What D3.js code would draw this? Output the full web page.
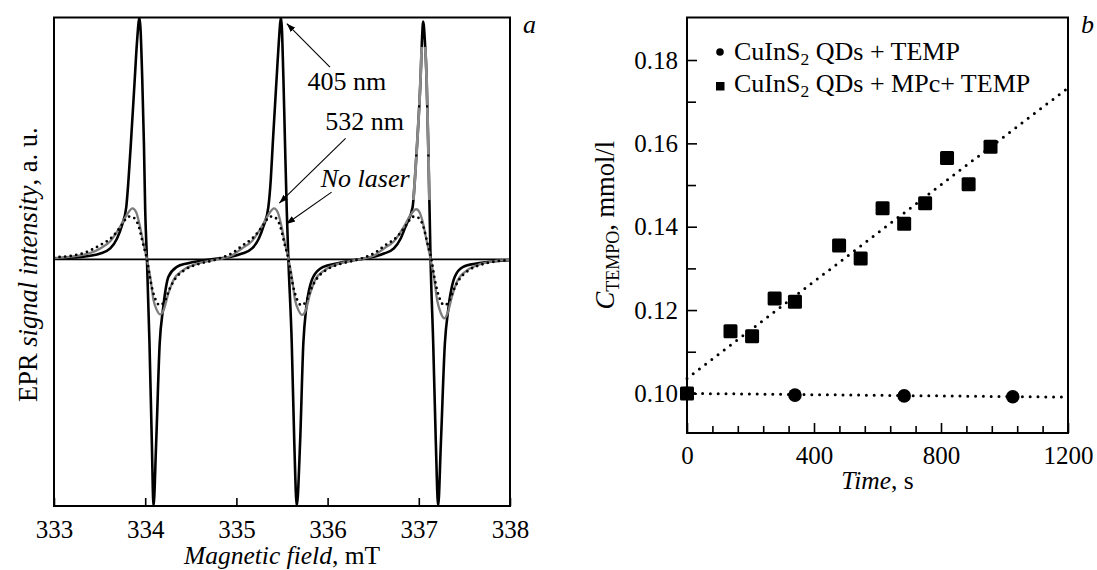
<!DOCTYPE html>
<html>
<head>
<meta charset="utf-8">
<script src="https://cdn.jsdelivr.net/npm/d3@7"></script>
<style>
  body { margin: 0; background: #fff; }
  svg, text, tspan { font-family: "Liberation Serif", "Times New Roman", serif; }
  .frame { fill: none; stroke: #000; stroke-width: 2; }
  .axis line { stroke: #000; stroke-width: 1.6; }
  .axis text { fill: #000; }
</style>
</head>
<body>
<svg id="figure" width="1097" height="570"></svg>
<script>
// ---------- panel a: EPR spectra (field in mT, intensity in a.u.) ----------
const fieldTicks = [333, 334, 335, 336, 337, 338];

const spectrum405 = [
  [333.000, 0.004], [333.288, 0.010], [333.507, 0.024], [333.617, 0.045], [333.690, 0.085],
  [333.745, 0.140], [333.792, 0.215], [333.817, 0.330], [333.843, 0.480], [333.887, 0.755],
  [333.909, 0.893], [333.938, 1.000], [333.967, 0.755], [333.986, 0.480], [334.000, 0.204],
  [334.019, 0.000], [334.047, -0.347], [334.073, -0.761], [334.091, -1.020], [334.120, -0.761],
  [334.159, -0.347], [334.194, -0.210], [334.255, -0.072], [334.347, -0.031], [334.457, -0.017],
  [334.602, -0.006], [334.770, 0.002], [334.930, 0.010], [335.062, 0.024], [335.172, 0.045],
  [335.245, 0.085], [335.300, 0.140], [335.350, 0.215], [335.377, 0.330], [335.399, 0.480],
  [335.442, 0.755], [335.464, 0.893], [335.490, 1.000], [335.515, 0.755], [335.533, 0.480],
  [335.552, 0.204], [335.570, 0.000], [335.607, -0.347], [335.635, -0.761], [335.662, -1.020],
  [335.698, -0.761], [335.734, -0.347], [335.763, -0.210], [335.843, -0.072], [335.953, -0.031],
  [336.100, -0.017], [336.245, -0.006], [336.400, 0.003], [336.520, 0.012], [336.618, 0.024],
  [336.727, 0.045], [336.800, 0.085], [336.859, 0.140], [336.932, 0.215], [336.957, 0.330],
  [336.982, 0.480], [337.020, 0.755], [337.034, 0.900], [337.048, 0.983], [337.067, 0.900],
  [337.085, 0.755], [337.103, 0.480], [337.118, 0.204], [337.129, 0.000], [337.158, -0.347],
  [337.187, -0.761], [337.212, -1.020], [337.242, -0.761], [337.286, -0.347], [337.322, -0.210],
  [337.395, -0.072], [337.486, -0.031], [337.633, -0.017], [337.834, -0.008], [338.000, -0.004]
];

const spectrum532 = [
  [333.000, 0.005], [333.288, 0.016], [333.507, 0.045], [333.617, 0.075], [333.726, 0.135],
  [333.792, 0.180], [333.861, 0.211], [333.901, 0.195], [333.926, 0.163], [333.981, 0.066],
  [334.019, 0.000], [334.055, -0.072], [334.091, -0.168], [334.128, -0.210], [334.164, -0.228],
  [334.197, -0.215], [334.255, -0.140], [334.310, -0.086], [334.419, -0.044], [334.566, -0.019],
  [334.712, -0.006], [334.850, 0.004], [334.950, 0.016], [335.059, 0.045], [335.169, 0.075],
  [335.278, 0.135], [335.344, 0.180], [335.413, 0.211], [335.453, 0.195], [335.478, 0.163],
  [335.533, 0.066], [335.571, 0.000], [335.607, -0.072], [335.643, -0.168], [335.680, -0.210],
  [335.722, -0.230], [335.756, -0.215], [335.810, -0.140], [335.862, -0.086], [335.971, -0.044],
  [336.118, -0.019], [336.264, -0.006], [336.400, 0.004], [336.510, 0.016], [336.618, 0.045],
  [336.728, 0.075], [336.837, 0.135], [336.903, 0.180], [336.972, 0.207], [337.012, 0.192],
  [337.037, 0.163], [337.092, 0.066], [337.130, 0.000], [337.166, -0.075], [337.202, -0.170],
  [337.239, -0.220], [337.280, -0.244], [337.313, -0.225], [337.370, -0.145], [337.425, -0.088],
  [337.535, -0.044], [337.680, -0.019], [337.830, -0.007], [338.000, -0.002]
];

const spectrumNoLaser = [
  [333.000, 0.008], [333.288, 0.022], [333.507, 0.059], [333.640, 0.093], [333.740, 0.140],
  [333.790, 0.168], [333.830, 0.177], [333.875, 0.172], [333.930, 0.135], [333.975, 0.066],
  [334.019, 0.000], [334.050, -0.072], [334.080, -0.127], [334.115, -0.168], [334.160, -0.190],
  [334.210, -0.175], [334.270, -0.120], [334.330, -0.080], [334.430, -0.045], [334.580, -0.020],
  [334.730, -0.006], [334.860, 0.010], [334.950, 0.025], [335.060, 0.055], [335.192, 0.093],
  [335.292, 0.140], [335.342, 0.168], [335.382, 0.177], [335.427, 0.172], [335.482, 0.135],
  [335.527, 0.066], [335.571, 0.000], [335.602, -0.072], [335.632, -0.127], [335.667, -0.168],
  [335.712, -0.190], [335.762, -0.175], [335.822, -0.120], [335.882, -0.080], [335.982, -0.045],
  [336.132, -0.020], [336.282, -0.006], [336.420, 0.010], [336.510, 0.025], [336.620, 0.055],
  [336.760, 0.093], [336.860, 0.140], [336.910, 0.168], [336.950, 0.177], [336.995, 0.172],
  [337.050, 0.135], [337.095, 0.066], [337.138, 0.000], [337.170, -0.072], [337.200, -0.127],
  [337.235, -0.168], [337.280, -0.190], [337.330, -0.175], [337.390, -0.120], [337.450, -0.080],
  [337.550, -0.045], [337.700, -0.020], [337.850, -0.008], [338.000, -0.003]
];

// ---------- panel b: TEMPO concentration vs time ----------
const timeTicks = [0, 400, 800, 1200];
const timeMinorTicks = [80, 160, 240, 320, 480, 560, 640, 720, 880, 960, 1040, 1120];
const concTicks = [0.10, 0.12, 0.14, 0.16, 0.18];
const concMinorTicks = [0.11, 0.13, 0.15, 0.17];

const timesTemp = [0, 340, 684, 1026];
const concTemp = [0.1000, 0.0996, 0.0994, 0.0992];

const timesMpc = [0, 137, 205, 276, 340, 479, 547, 616, 684, 750, 819, 887, 956];
const concMpc = [0.1000, 0.1149, 0.1137, 0.1228, 0.1220, 0.1355, 0.1324, 0.1444, 0.1407, 0.1456, 0.1565, 0.1502, 0.1592];

// end points of the two dotted fit lines
const fitTemp = [[0, 0.1000], [1200, 0.0991]];
const fitMpc = [[0, 0.1036], [1200, 0.1733]];

const legendLabels = ['CuInS', 'CuInS'];
const legendTails = [' QDs + TEMP', ' QDs + MPc+ TEMP'];

const FONT = '"Liberation Serif", "Times New Roman", serif';

const svg = d3.select('#figure').attr('font-family', FONT);

// shared arrowhead
svg.append('defs').append('marker')
    .attr('id', 'arrow')
    .attr('viewBox', '0 0 10 10')
    .attr('refX', 10).attr('refY', 5)
    .attr('markerWidth', 9).attr('markerHeight', 9)
    .attr('markerUnits', 'userSpaceOnUse')
    .attr('orient', 'auto')
  .append('path')
    .attr('d', 'M0,1.5 L10,5 L0,8.5 Z')
    .attr('fill', '#000');

class EprChart {

  constructor(_config) {
    this.config = {
      parentElement: _config.parentElement,
      left: 54, top: 17.5, width: 456, height: 488.5
    };
    this.initVis();
  }

  initVis() {
    let vis = this;
    const c = vis.config;

    vis.xScale = d3.scaleLinear().domain([333, 338]).range([0, c.width]);
    vis.yScale = d3.scaleLinear().domain([-1.02, 1]).range([c.height, 0]);

    vis.chart = c.parentElement.append('g')
        .attr('transform', `translate(${c.left},${c.top})`);

    vis.chart.append('clipPath').attr('id', 'clip-a')
      .append('rect').attr('width', c.width).attr('height', c.height);

    // zero line
    vis.chart.append('line')
        .attr('x1', 0).attr('x2', c.width)
        .attr('y1', vis.yScale(0)).attr('y2', vis.yScale(0))
        .attr('stroke', '#000').attr('stroke-width', 1.6);

    vis.line = d3.line()
        .x(d => vis.xScale(d[0]))
        .y(d => vis.yScale(d[1]))
        .curve(d3.curveMonotoneX);

    vis.curves = vis.chart.append('g').attr('clip-path', 'url(#clip-a)');

    vis.curves.append('path')
        .attr('d', vis.line(spectrum405))
        .attr('fill', 'none').attr('stroke', '#000').attr('stroke-width', 2.6);

    // the upper part of the third 405 nm line is grey in the original print
    const bands = [[0.245, 0.425], [0.433, 0.628], [0.637, 0.879]];
    const fade = vis.chart.append('clipPath').attr('id', 'fade-a');
    bands.forEach(b => {
      fade.append('rect')
          .attr('x', vis.xScale(336.85)).attr('width', vis.xScale(337.2) - vis.xScale(336.85))
          .attr('y', vis.yScale(b[1])).attr('height', vis.yScale(b[0]) - vis.yScale(b[1]));
    });
    vis.curves.append('path')
        .attr('d', vis.line(spectrum405))
        .attr('clip-path', 'url(#fade-a)')
        .attr('fill', 'none').attr('stroke', '#8a8a8a').attr('stroke-width', 2.8);

    vis.curves.append('path')
        .attr('d', vis.line(spectrum532))
        .attr('fill', 'none').attr('stroke', '#7d7d7d').attr('stroke-width', 2.3);

    vis.curves.append('path')
        .attr('d', vis.line(spectrumNoLaser))
        .attr('fill', 'none').attr('stroke', '#000').attr('stroke-width', 2.8)
        .attr('stroke-linecap', 'round').attr('stroke-dasharray', '0 5.6');

    // axis with inward ticks
    vis.xAxis = d3.axisBottom(vis.xScale)
        .tickValues(fieldTicks)
        .tickSize(-8)
        .tickPadding(14)
        .tickFormat(d3.format('d'));

    vis.chart.append('g')
        .attr('class', 'axis')
        .attr('transform', `translate(0,${c.height})`)
        .call(vis.xAxis)
        .call(g => g.select('.domain').remove())
        .attr('font-size', 25).attr('font-family', FONT);

    vis.chart.append('rect').attr('class', 'frame')
        .attr('width', c.width).attr('height', c.height);

    // annotations
    const notes = [
      { label: '405 nm', italic: false, at: [335.780, 0.700], from: [336.026, 0.795], to: [335.552, 0.975] },
      { label: '532 nm', italic: false, at: [335.975, 0.534], from: [336.197, 0.500], to: [335.470, 0.232] },
      { label: 'No laser', italic: true, at: [335.925, 0.300], from: [336.044, 0.278], to: [335.546, 0.146] }
    ];
    notes.forEach(n => {
      vis.chart.append('line')
          .attr('x1', vis.xScale(n.from[0])).attr('y1', vis.yScale(n.from[1]))
          .attr('x2', vis.xScale(n.to[0])).attr('y2', vis.yScale(n.to[1]))
          .attr('stroke', '#000').attr('stroke-width', 1.1)
          .attr('marker-end', 'url(#arrow)');
      vis.chart.append('text')
          .attr('x', vis.xScale(n.at[0])).attr('y', vis.yScale(n.at[1]))
          .attr('font-size', 26).attr('font-family', FONT)
          .attr('font-style', n.italic ? 'italic' : null)
          .text(n.label);
    });

    // axis titles and panel letter
    const xt = vis.chart.append('text')
        .attr('x', c.width / 2).attr('y', c.height + 58)
        .attr('text-anchor', 'middle').attr('font-size', 25.5);
    xt.append('tspan').attr('font-style', 'italic').text('Magnetic field');
    xt.append('tspan').text(', mT');

    const yt = vis.chart.append('text')
        .attr('transform', `translate(-17,${c.height / 2 + 3}) rotate(-90)`)
        .attr('text-anchor', 'middle').attr('font-size', 26.5);
    yt.append('tspan').text('EPR ');
    yt.append('tspan').attr('font-style', 'italic').text('signal intensity');
    yt.append('tspan').text(', a. u.');

    vis.chart.append('text')
        .attr('x', c.width + 13).attr('y', 15)
        .attr('font-size', 26).attr('font-style', 'italic')
        .text('a');
  }
}

class KineticsChart {

  constructor(_config) {
    this.config = {
      parentElement: _config.parentElement,
      left: 687, top: 17.5, width: 381, height: 415.5
    };
    this.initVis();
  }

  initVis() {
    let vis = this;
    const c = vis.config;

    vis.xScale = d3.scaleLinear().domain([0, 1200]).range([0, c.width]);
    vis.yScale = d3.scaleLinear().domain([0.0905, 0.1902]).range([c.height, 0]);

    vis.chart = c.parentElement.append('g')
        .attr('transform', `translate(${c.left},${c.top})`);

    const axisStyle = g => g.call(g => g.select('.domain').remove())
        .attr('font-size', 25).attr('font-family', FONT);

    // minor ticks first, then major with labels
    vis.chart.append('g').attr('class', 'axis')
        .attr('transform', `translate(0,${c.height})`)
        .call(d3.axisBottom(vis.xScale).tickValues(timeMinorTicks).tickSize(-7).tickFormat(''))
        .call(axisStyle);
    vis.chart.append('g').attr('class', 'axis')
        .attr('transform', `translate(0,${c.height})`)
        .call(d3.axisBottom(vis.xScale).tickValues(timeTicks).tickSize(-10).tickPadding(13).tickFormat(d3.format('d')))
        .call(axisStyle);
    vis.chart.append('g').attr('class', 'axis')
        .call(d3.axisLeft(vis.yScale).tickValues(concMinorTicks).tickSize(-9).tickFormat(''))
        .call(axisStyle);
    vis.chart.append('g').attr('class', 'axis')
        .call(d3.axisLeft(vis.yScale).tickValues(concTicks).tickSize(-10).tickPadding(9).tickFormat(d3.format('.2f')))
        .call(axisStyle);

    // dotted fits
    const line = d3.line().x(d => vis.xScale(d[0])).y(d => vis.yScale(d[1]));
    [fitTemp, fitMpc].forEach(f => {
      vis.chart.append('path')
          .attr('d', line(f))
          .attr('fill', 'none').attr('stroke', '#000').attr('stroke-width', 3)
          .attr('stroke-linecap', 'round').attr('stroke-dasharray', '0 7.8');
    });

    vis.chart.selectAll('.dot')
        .data(timesTemp.map((t, i) => [t, concTemp[i]]))
        .join('circle')
        .attr('class', 'dot')
        .attr('cx', d => vis.xScale(d[0]))
        .attr('cy', d => vis.yScale(d[1]))
        .attr('r', 6.8);

    vis.chart.selectAll('.sq')
        .data(timesMpc.map((t, i) => [t, concMpc[i]]))
        .join('rect')
        .attr('class', 'sq')
        .attr('x', d => vis.xScale(d[0]) - 7)
        .attr('y', d => vis.yScale(d[1]) - 7)
        .attr('width', 14).attr('height', 14)
        .attr('rx', 1.5);

    vis.chart.append('rect').attr('class', 'frame')
        .attr('width', c.width).attr('height', c.height);

    // legend
    const legend = vis.chart.append('g').attr('font-size', 26).attr('font-family', FONT);
    legend.append('circle').attr('cx', 33).attr('cy', 34.5).attr('r', 3.8);
    legend.append('rect').attr('x', 29).attr('y', 64.5).attr('width', 8.5).attr('height', 8.5);
    legendLabels.forEach((lab, i) => {
      const t = legend.append('text').attr('x', 47).attr('y', 42.5 + i * 32);
      t.append('tspan').text(lab);
      t.append('tspan').attr('font-size', 17.5).attr('dy', 5).text('2');
      t.append('tspan').attr('dy', -5).text(legendTails[i]);
    });

    // axis titles and panel letter
    const xt = vis.chart.append('text')
        .attr('x', c.width / 2).attr('y', c.height + 56)
        .attr('text-anchor', 'middle').attr('font-size', 25.5);
    xt.append('tspan').attr('font-style', 'italic').text('Time');
    xt.append('tspan').text(', s');

    const yt = vis.chart.append('text')
        .attr('transform', `translate(-73,${c.height / 2}) rotate(-90)`)
        .attr('text-anchor', 'middle').attr('font-size', 26.5);
    yt.append('tspan').attr('font-style', 'italic').text('C');
    yt.append('tspan').attr('font-size', 18).attr('dy', 5).text('TEMPO');
    yt.append('tspan').attr('dy', -5).text(', mmol/l');

    vis.chart.append('text')
        .attr('x', c.width + 13).attr('y', 15)
        .attr('font-size', 26).attr('font-style', 'italic')
        .text('b');
  }
}

new EprChart({ parentElement: svg });
new KineticsChart({ parentElement: svg });
</script>
</body>
</html>
